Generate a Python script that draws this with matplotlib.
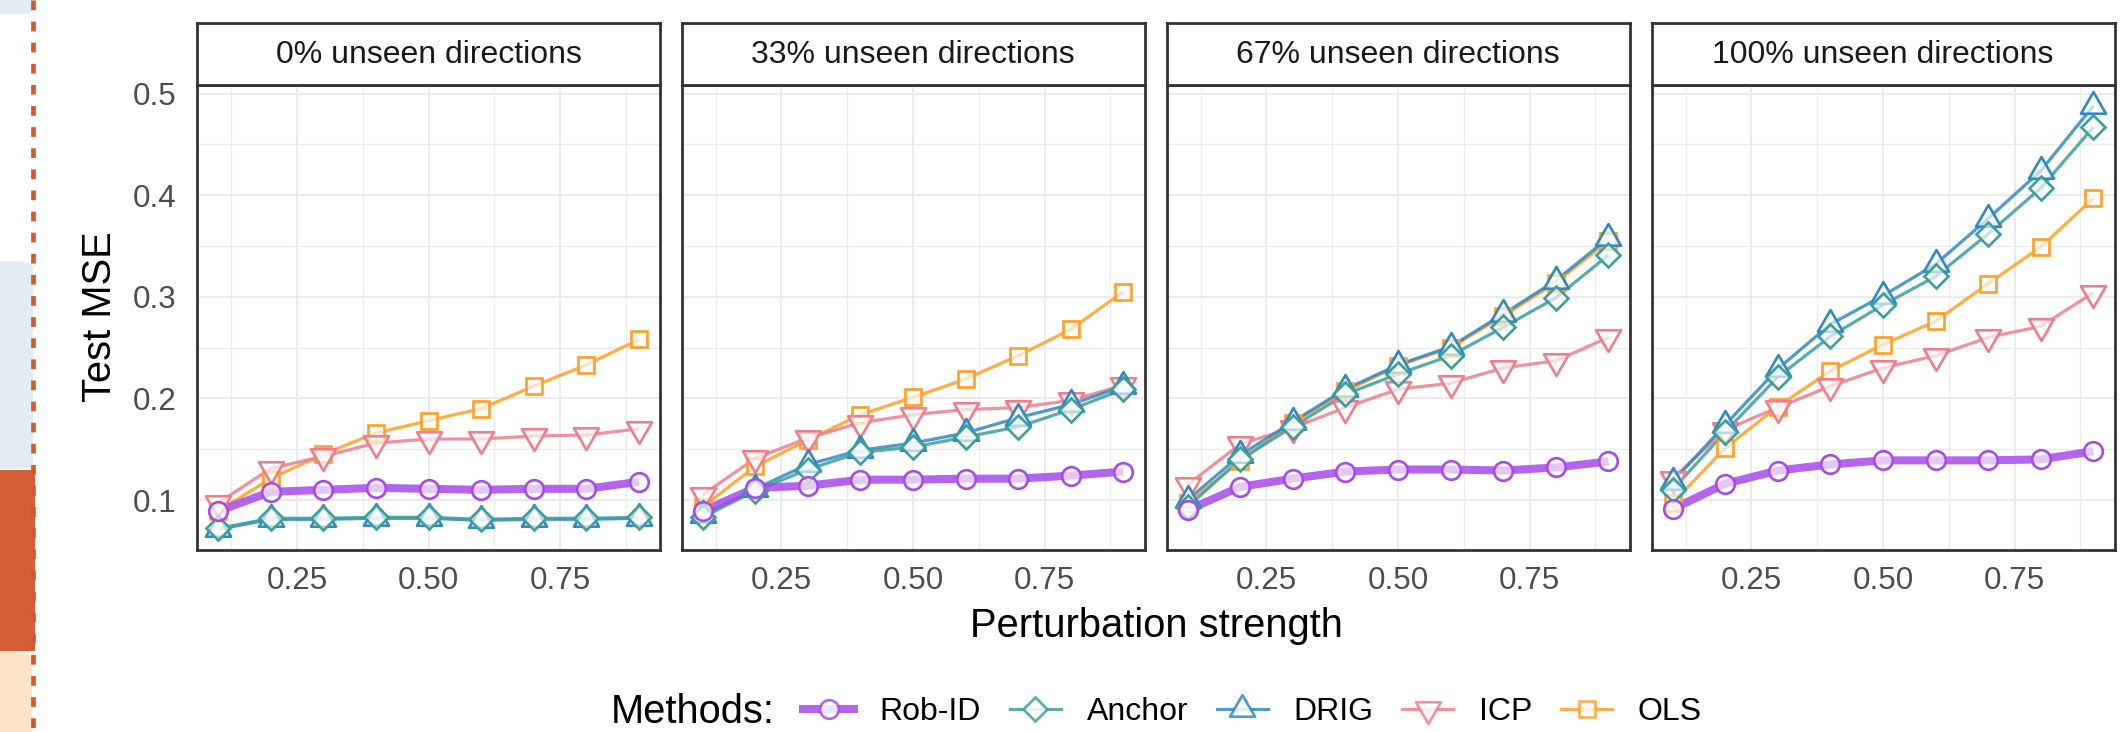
import matplotlib.pyplot as plt
from matplotlib.path import Path
from matplotlib.lines import Line2D
from matplotlib.patches import Rectangle, FancyBboxPatch

plt.rcParams['font.family'] = ['Liberation Sans', 'DejaVu Sans']

# datos
strength = [0.1, 0.2, 0.3, 0.4, 0.5, 0.6, 0.7, 0.8, 0.9]
panel_titles = ['0% unseen directions', '33% unseen directions',
                '67% unseen directions', '100% unseen directions']
methods = ['Rob-ID', 'Anchor', 'DRIG', 'ICP', 'OLS']

rob_id = [
    [0.089, 0.108, 0.110, 0.112, 0.111, 0.110, 0.111, 0.111, 0.118],
    [0.089, 0.112, 0.114, 0.120, 0.120, 0.121, 0.121, 0.124, 0.128],
    [0.090, 0.113, 0.121, 0.128, 0.130, 0.130, 0.129, 0.132, 0.138],
    [0.091, 0.116, 0.129, 0.135, 0.139, 0.139, 0.139, 0.140, 0.148],
]
anchor = [
    [0.072, 0.082, 0.082, 0.083, 0.083, 0.081, 0.082, 0.082, 0.083],
    [0.083, 0.109, 0.130, 0.147, 0.152, 0.162, 0.172, 0.189, 0.209],
    [0.093, 0.140, 0.172, 0.204, 0.224, 0.242, 0.270, 0.299, 0.341],
    [0.110, 0.167, 0.221, 0.261, 0.292, 0.320, 0.362, 0.407, 0.467],
]
drig = [
    [0.071, 0.081, 0.081, 0.082, 0.082, 0.080, 0.081, 0.081, 0.082],
    [0.085, 0.111, 0.135, 0.149, 0.156, 0.166, 0.181, 0.194, 0.212],
    [0.100, 0.144, 0.177, 0.209, 0.233, 0.251, 0.283, 0.316, 0.358],
    [0.118, 0.174, 0.229, 0.273, 0.301, 0.332, 0.377, 0.424, 0.488],
]
icp = [
    [0.097, 0.131, 0.143, 0.156, 0.160, 0.160, 0.163, 0.164, 0.170],
    [0.105, 0.141, 0.161, 0.176, 0.184, 0.189, 0.191, 0.198, 0.213],
    [0.115, 0.155, 0.171, 0.191, 0.209, 0.215, 0.230, 0.237, 0.260],
    [0.121, 0.169, 0.191, 0.212, 0.230, 0.242, 0.260, 0.271, 0.304],
]
ols = [
    [0.089, 0.121, 0.145, 0.166, 0.178, 0.190, 0.212, 0.233, 0.258],
    [0.093, 0.133, 0.159, 0.184, 0.201, 0.219, 0.242, 0.268, 0.305],
    [0.097, 0.138, 0.176, 0.207, 0.232, 0.250, 0.281, 0.314, 0.355],
    [0.097, 0.151, 0.192, 0.227, 0.253, 0.276, 0.313, 0.349, 0.397],
]
series = {'Rob-ID': rob_id, 'Anchor': anchor, 'DRIG': drig, 'ICP': icp, 'OLS': ols}

colors = {'Rob-ID': '#a64bea', 'Anchor': '#3a9f9c', 'DRIG': '#2f89c3',
          'ICP': '#f07d8c', 'OLS': '#ff9f26'}

# formas tipo ggplot (triangulos equilateros centrados en el centroide)
tri_up = Path([(0, 1.555), (-1.347, -0.778), (1.347, -0.778), (0, 1.555)],
              [Path.MOVETO, Path.LINETO, Path.LINETO, Path.CLOSEPOLY])
tri_down = Path([(0, -1.555), (-1.347, 0.778), (1.347, 0.778), (0, -1.555)],
                [Path.MOVETO, Path.LINETO, Path.LINETO, Path.CLOSEPOLY])
markers = {'Rob-ID': ('o', 13.4), 'Anchor': ('D', 11.9), 'DRIG': (tri_up, 20.8),
           'ICP': (tri_down, 20.8), 'OLS': ('s', 11.9)}
widths = {'Rob-ID': 5.8, 'Anchor': 2.3, 'DRIG': 2.3, 'ICP': 2.3, 'OLS': 2.3}
draw_order = ['OLS', 'ICP', 'DRIG', 'Anchor', 'Rob-ID']
face = (1, 1, 1, 0.65)

W, H = 2120, 732
fig = plt.figure(figsize=(W / 100, H / 100), dpi=100)

# franja decorativa de la izquierda
fig.patches.append(FancyBboxPatch((-20 / W, 1 - 14 / H), 52 / W, 34 / H,
                                  boxstyle='round,pad=0,rounding_size=0.006',
                                  transform=fig.transFigure, facecolor='#e3ebf5', edgecolor='none'))
fig.patches.append(FancyBboxPatch((-20 / W, 1 - 469 / H), 53 / W, 208 / H,
                                  boxstyle='round,pad=0,rounding_size=0.01',
                                  transform=fig.transFigure, facecolor='#e3ebf5', edgecolor='none'))
fig.patches.append(Rectangle((0, 1 - 651 / H), 35 / W, 181 / H, transform=fig.transFigure,
                             facecolor='#d45f35', edgecolor='none'))
fig.patches.append(FancyBboxPatch((-20 / W, -20 / H), 52 / W, (732 - 652 + 20) / H,
                                  boxstyle='round,pad=0,rounding_size=0.01',
                                  transform=fig.transFigure, facecolor='#fde3c8', edgecolor='none'))
fig.lines.append(Line2D([32.5 / W, 32.5 / W], [1, 0], transform=fig.transFigure, color='#d9582a',
                        lw=3.4, dashes=(7.0 / 3.4, 8.2 / 3.4), solid_capstyle='butt'))

lefts = [197, 681.5, 1166.5, 1651.5]
pw = 463
top, bottom = 85.4, 549.5
strip_top = 23

for i, left in enumerate(lefts):
    ax = fig.add_axes([left / W, 1 - bottom / H, pw / W, (bottom - top) / H])
    for m in draw_order:
        ax.plot(strength, series[m][i], color=colors[m], alpha=0.85, lw=widths[m],
                solid_capstyle='butt', zorder=3)
    for m in draw_order:
        mk, ms = markers[m]
        ax.plot(strength, series[m][i], linestyle='none', marker=mk, markersize=ms,
                markerfacecolor=face, markeredgecolor=colors[m], markeredgewidth=1.9, zorder=4)

    ax.set_xlim(0.06, 0.94)
    ax.set_ylim(0.0513, 0.508)
    ax.set_xticks([0.25, 0.5, 0.75])
    ax.set_xticklabels(['0.25', '0.50', '0.75'])
    ax.set_xticks([0.125, 0.375, 0.625, 0.875], minor=True)
    ax.set_yticks([0.1, 0.2, 0.3, 0.4, 0.5])
    ax.set_yticks([0.15, 0.25, 0.35, 0.45], minor=True)
    if i == 0:
        ax.set_yticklabels(['0.1', '0.2', '0.3', '0.4', '0.5'])
    else:
        ax.set_yticklabels([])
    ax.tick_params(which='both', length=0, labelsize=22.6, labelcolor='#4d4d4d')
    ax.tick_params(axis='x', pad=12)
    ax.tick_params(axis='y', pad=15)
    ax.grid(True, which='major', color='#ebebeb', lw=1.5, zorder=0)
    ax.grid(True, which='minor', color='#ebebeb', lw=0.9, zorder=0)
    ax.set_axisbelow(True)
    for s in ax.spines.values():
        s.set_color('#333333')
        s.set_linewidth(2.0)

    # franja de titulo de cada panel
    sax = fig.add_axes([left / W, 1 - top / H, pw / W, (top - strip_top) / H])
    sax.set_xticks([])
    sax.set_yticks([])
    for s in sax.spines.values():
        s.set_color('#333333')
        s.set_linewidth(2.0)
    sax.text(0.5, 0.48, panel_titles[i], ha='center', va='center', fontsize=23,
             color='#1a1a1a', transform=sax.transAxes)

fig.text(100 / W, 1 - 317 / H, 'Test MSE', rotation=90, ha='center', va='center', fontsize=28.7)
fig.text(1156 / W, 1 - 626 / H, 'Perturbation strength', ha='center', va='center', fontsize=28.7)

handles = []
for m in methods:
    mk, ms = markers[m]
    handles.append(Line2D([0], [0], color=colors[m], lw=widths[m], alpha=0.85, marker=mk,
                          markersize=ms, markerfacecolor=face, markeredgecolor=colors[m],
                          markeredgewidth=1.9))
fig.text(611 / W, 1 - 712 / H, 'Methods:', ha='left', va='center', fontsize=28.7)
fig.legend(handles, methods, loc='center left', bbox_to_anchor=(803 / W, 1 - 712 / H),
           ncol=5, frameon=False, fontsize=23, borderpad=0, borderaxespad=0,
           handlelength=1.6, handletextpad=0.8, columnspacing=0.9)

fig.savefig('out.png', dpi=100)
